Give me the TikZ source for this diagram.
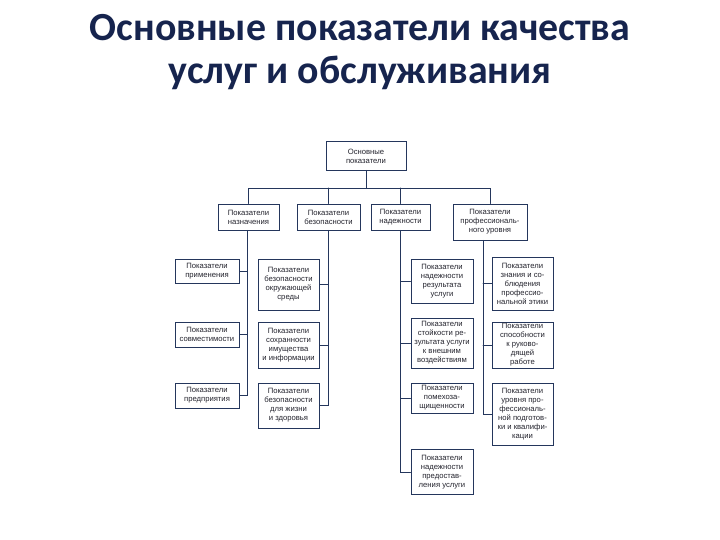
\documentclass[tikz,border=0pt]{standalone}
\usepackage{fontspec}
\setmainfont{Liberation Sans}
\newfontfamily\titlefont{Carlito}
\usepackage{xcolor}
\definecolor{titleblue}{RGB}{22,36,78}
\definecolor{boxline}{RGB}{36,54,92}
\definecolor{boxtext}{RGB}{35,35,45}

\begin{document}
\begin{tikzpicture}[x=1bp,y=-1bp,line cap=round,
  box/.style={draw=boxline,line width=1pt,align=center,inner sep=1pt,
    text=boxtext,font=\fontsize{7.7}{9}\selectfont},
  link/.style={draw=boxline,line width=1pt}]
\useasboundingbox (0,0) rectangle (720,540);
\node[font=\titlefont\bfseries\fontsize{40}{44}\selectfont,text=titleblue,align=center] (title) at (360,52)
  {Основные показатели качества\\услуг и обслуживания};
\node[box,minimum width=80bp,minimum height=28bp] (top) at (366,156) {Основные\\показатели};
\node[box,minimum width=61bp,minimum height=26bp] (nazn) at (248.5,217) {Показатели\\назначения};
\node[box,minimum width=63bp,minimum height=26bp] (bezop) at (328.5,217) {Показатели\\безопасности};
\node[box,minimum width=59bp,minimum height=26bp] (nadez) at (400.5,217) {Показатели\\надежности};
\node[box,minimum width=74bp,minimum height=36bp] (prof) at (490,222) {Показатели\\профессиональ-\\ного уровня};
\coordinate (bus) at (0,188);
\draw[link] (top.south) -- (top.south |- bus);
\draw[link] (nazn.north) |- (bus -| prof.north) -- (prof.north);
\draw[link] (bezop.north) -- (bezop.north |- bus);
\draw[link] (nadez.north) -- (nadez.north |- bus);
% показатели назначения
\node[box,minimum width=64bp,minimum height=24bp] (prim) at (207,271) {Показатели\\применения};
\node[box,minimum width=64bp,minimum height=25bp] (sovm) at (207,334.5) {Показатели\\совместимости};
\node[box,minimum width=64bp,minimum height=25bp] (pred) at (207,395.5) {Показатели\\предприятия};
\coordinate (tA) at (247,0);
\draw[link] (nazn.south -| tA) |- (pred.east);
\draw[link] (prim.east) -- (prim.east -| tA);
\draw[link] (sovm.east) -- (sovm.east -| tA);
% показатели безопасности
\node[box,minimum width=61bp,minimum height=51bp] (okr) at (288.5,284.5) {Показатели\\безопасности\\окружающей\\среды};
\node[box,minimum width=61bp,minimum height=46bp] (sohr) at (288.5,345) {Показатели\\сохранности\\имущества\\и информации};
\node[box,minimum width=61bp,minimum height=45bp] (zhizn) at (288.5,405.5) {Показатели\\безопасности\\для жизни\\и здоровья};
\draw[link] (bezop.south) |- (zhizn.east);
\draw[link] (okr.east) -- (okr.east -| bezop.south);
\draw[link] (sohr.east) -- (sohr.east -| bezop.south);
% показатели надежности
\node[box,minimum width=62bp,minimum height=44bp] (rez) at (442,281) {Показатели\\надежности\\результата\\услуги};
\node[box,minimum width=62bp,minimum height=50bp] (stoik) at (442,343) {Показатели\\стойкости ре-\\зультата услуги\\к внешним\\воздействиям};
\node[box,minimum width=62bp,minimum height=30bp] (pomeh) at (442,398) {Показатели\\помехоза-\\щищенности};
\node[box,minimum width=62bp,minimum height=45bp] (predost) at (442,472) {Показатели\\надежности\\предостав-\\ления услуги};
\draw[link] (nadez.south) |- (predost.west);
\draw[link] (rez.west) -- (rez.west -| nadez.south);
\draw[link] (stoik.west) -- (stoik.west -| nadez.south);
\draw[link] (pomeh.west) -- (pomeh.west -| nadez.south);
% показатели профессионального уровня
\node[box,minimum width=61bp,minimum height=53bp] (etik) at (522.5,283.5) {Показатели\\знания и со-\\блюдения\\профессио-\\нальной этики};
\node[box,minimum width=61bp,minimum height=46bp] (ruk) at (522.5,345) {Показатели\\способности\\к руково-\\дящей\\работе};
\node[box,minimum width=61bp,minimum height=62bp] (kval) at (522.5,414) {Показатели\\уровня про-\\фессиональ-\\ной подготов-\\ки и квалифи-\\кации};
\coordinate (tD) at (483,0);
\draw[link] (prof.south -| tD) |- (kval.west);
\draw[link] (etik.west) -- (etik.west -| tD);
\draw[link] (ruk.west) -- (ruk.west -| tD);
\end{tikzpicture}
\end{document}
